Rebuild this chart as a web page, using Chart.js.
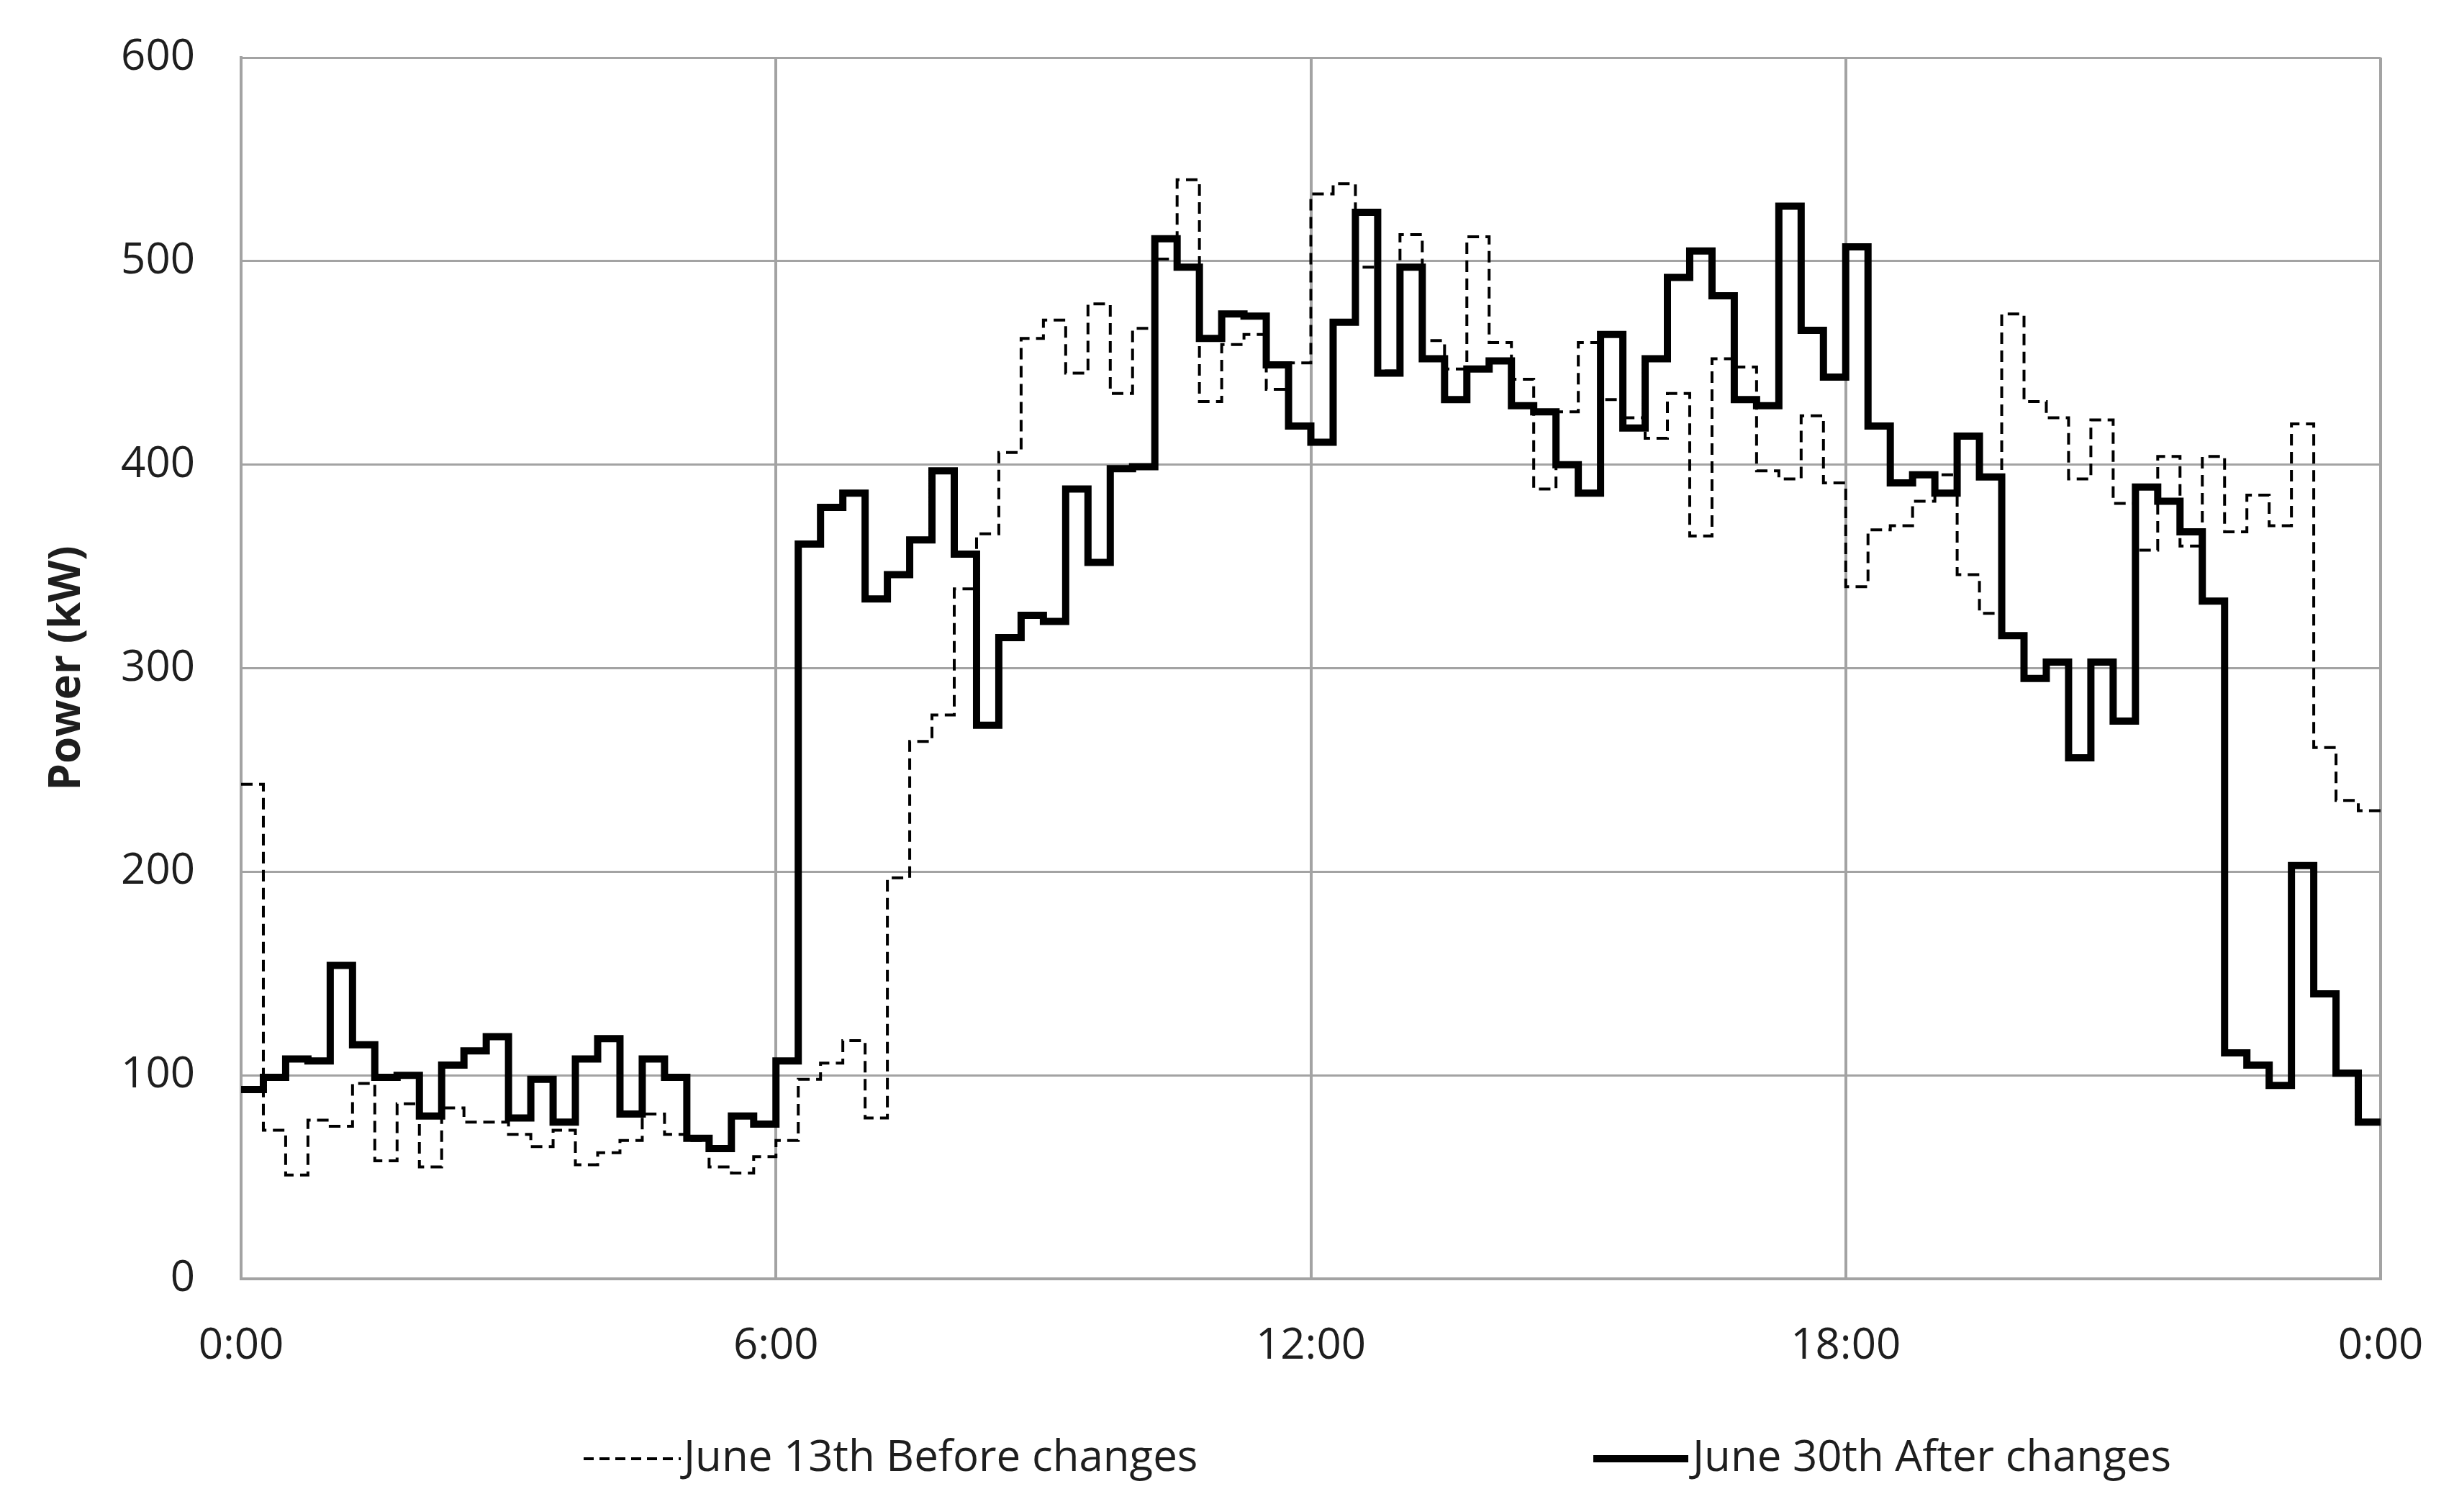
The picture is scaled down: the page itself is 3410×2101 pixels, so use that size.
<!DOCTYPE html>
<html>
<head>
<meta charset="utf-8">
<title>Power profile</title>
<script src="https://cdn.jsdelivr.net/npm/chart.js@4.4.1/dist/chart.umd.min.js"></script>
<style>
  html, body { margin: 0; padding: 0; background: #fff; }
  #wrap { width: 3410px; height: 2101px; position: relative; }
</style>
</head>
<body>
<div id="wrap"><canvas id="powerChart"></canvas></div>
<script>
// 15-minute readings, kW (96 per day)
const stepMinutes = 15;

const beforeLabel = 'June 13th Before changes';
const beforeKW = [
  243, 73, 51, 78, 75, 96, 58, 86, 55, 84, 77, 77,
  71, 65, 73, 56, 62, 68, 81, 71, 68, 55, 52, 60,
  68, 98, 106, 117, 79, 197, 264, 277, 339, 366, 406, 462,
  471, 445, 479, 435, 467, 501, 540, 431, 459, 464, 437, 450,
  533, 538, 497, 446, 513, 461, 447, 512, 460, 442, 388, 426,
  460, 432, 423, 413, 435, 365, 452, 448, 397, 393, 424, 391,
  340, 368, 370, 382, 395, 346, 327, 474, 431, 423, 393, 422,
  381, 358, 404, 360, 404, 367, 385, 370, 420, 261, 235, 230
];

const afterLabel = 'June 30th After changes';
const afterKW = [
  93, 99, 108, 107, 154, 115, 99, 100, 80, 105, 112, 119,
  79, 98, 77, 108, 118, 81, 108, 99, 69, 64, 80, 76,
  107, 361, 379, 386, 334, 346, 363, 397, 356, 272, 315, 326,
  323, 388, 352, 398, 399, 511, 497, 462, 474, 473, 449, 419,
  411, 470, 524, 445, 497, 452, 432, 447, 451, 429, 426, 400,
  386, 464, 418, 452, 492, 505, 483, 432, 429, 527, 466, 443,
  507, 419, 391, 395, 386, 414, 394, 316, 295, 303, 256, 303,
  274, 389, 382, 367, 333, 111, 105, 95, 203, 140, 101, 77
];

const xTickLabels = ['0:00', '6:00', '12:00', '18:00', '0:00'];
const yTicks = [0, 100, 200, 300, 400, 500, 600];

// each reading holds for its 15 minutes, so add a closing point at 24:00
function toSteps(values) {
  const pts = values.map(function (v, i) {
    return { x: i * stepMinutes / 60, y: v };
  });
  pts.push({ x: 24, y: values[values.length - 1] });
  return pts;
}

const gridGrey = '#a3a3a3';
const textCol = '#1e1e1e';

Chart.defaults.font.family = "'Open Sans', sans-serif";
Chart.defaults.font.size = 60;
Chart.defaults.color = textCol;

// legend drawn by hand: the two entries sit far apart
const legendBottom = {
  id: 'legendBottom',
  afterDraw(chart) {
    const ctx = chart.ctx;
    const y = 2027;
    ctx.save();
    ctx.font = "60px 'Open Sans', sans-serif";
    ctx.fillStyle = textCol;
    ctx.textBaseline = 'middle';
    ctx.textAlign = 'left';

    ctx.strokeStyle = '#000';
    ctx.lineWidth = 4;
    ctx.setLineDash([14, 8]);
    ctx.beginPath();
    ctx.moveTo(811, y);
    ctx.lineTo(946, y);
    ctx.stroke();
    ctx.fillText(beforeLabel, 950, y);

    ctx.setLineDash([]);
    ctx.lineWidth = 10;
    ctx.beginPath();
    ctx.moveTo(2214, y);
    ctx.lineTo(2346, y);
    ctx.stroke();
    ctx.fillText(afterLabel, 2352, y);
    ctx.restore();
  }
};

new Chart(document.getElementById('powerChart').getContext('2d'), {
  type: 'line',
  data: {
    datasets: [
      {
        label: beforeLabel,
        data: toSteps(beforeKW),
        stepped: true,
        borderColor: '#000',
        borderWidth: 4,
        borderDash: [16, 9],
        pointRadius: 0,
        fill: false,
        order: 1
      },
      {
        label: afterLabel,
        data: toSteps(afterKW),
        stepped: true,
        borderColor: '#000',
        borderWidth: 10,
        borderJoinStyle: 'miter',
        pointRadius: 0,
        fill: false,
        order: 0
      }
    ]
  },
  options: {
    responsive: true,
    maintainAspectRatio: false,
    animation: false,
    layout: { padding: { top: 80, right: 102, bottom: 0, left: 0 } },
    plugins: {
      legend: { display: false },
      tooltip: { enabled: false }
    },
    scales: {
      x: {
        type: 'linear',
        min: 0,
        max: 24,
        afterBuildTicks(scale) {
          scale.ticks = xTickLabels.map(function (t, i) { return { value: i * 6 }; });
        },
        afterFit(scale) { scale.height = 324; },
        ticks: {
          padding: 0,
          maxRotation: 0,
          callback: function (v, i) { return xTickLabels[i]; }
        },
        // invisible tick marks just push the labels away from the axis
        grid: { color: gridGrey, lineWidth: 4, drawTicks: true, tickLength: 58, tickColor: 'rgba(0,0,0,0)' },
        border: { color: gridGrey, width: 4 }
      },
      y: {
        min: 0,
        max: 600,
        afterBuildTicks(scale) {
          scale.ticks = yTicks.map(function (v) { return { value: v }; });
        },
        afterFit(scale) { scale.width = 335; },
        ticks: { padding: 0 },
        title: {
          display: true,
          text: 'Power (kW)',
          font: { size: 60, weight: 'bold' },
          padding: { top: 58, bottom: 0 }
        },
        grid: { color: gridGrey, lineWidth: 3, drawTicks: true, tickLength: 64, tickColor: 'rgba(0,0,0,0)' },
        border: { color: gridGrey, width: 4 }
      }
    }
  },
  plugins: [legendBottom]
});
</script>
</body>
</html>
